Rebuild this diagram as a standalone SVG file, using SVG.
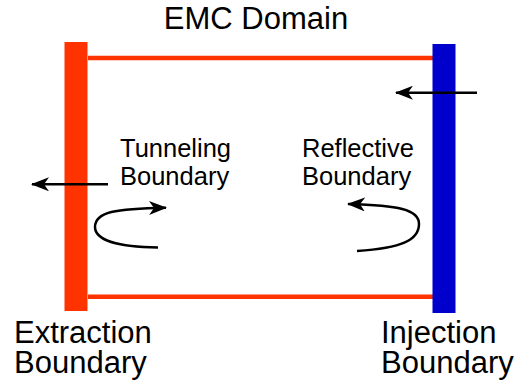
<svg xmlns="http://www.w3.org/2000/svg" width="517" height="381" viewBox="0 0 517 381">
<defs>
<style>
text{font-family:"Liberation Sans",Arial,sans-serif;fill:#000}
.t1{font-size:31px}
.t2{font-size:25.5px}
.t3{font-size:31px}
.edge{stroke:#ff3300;stroke-width:4.5;fill:none}
.arr{stroke:#000;stroke-width:2.5;fill:none}
</style>
<marker id="ah" viewBox="0 0 18 14" refX="17" refY="7" markerWidth="18" markerHeight="14" markerUnits="userSpaceOnUse" orient="auto">
<path d="M0,0 L18,7 L0,14 L5,7 Z" fill="#000"/>
</marker>
</defs>
<rect width="517" height="381" fill="#fff"/>
<g id="connectors">
<line class="edge" x1="88" y1="58" x2="433" y2="58"/>
<line class="edge" x1="88" y1="296.7" x2="433" y2="296.7"/>
</g>
<g id="extraction">
<rect x="64.5" y="42" width="23" height="269" fill="#ff3300"/>
<text class="t3" x="14" y="343">Extraction</text>
<text class="t3" x="14" y="373">Boundary</text>
</g>
<g id="injection">
<rect x="432.5" y="44" width="23" height="269" fill="#0000cc"/>
<text class="t3" x="381" y="343">Injection</text>
<text class="t3" x="381" y="373">Boundary</text>
</g>
<g id="title">
<text class="t1" x="256" y="29" text-anchor="middle">EMC Domain</text>
</g>
<g id="tunneling">
<text class="t2" x="120" y="157">Tunneling</text>
<text class="t2" x="120" y="185">Boundary</text>
</g>
<g id="reflective">
<text class="t2" x="302" y="157">Reflective</text>
<text class="t2" x="302" y="185">Boundary</text>
</g>
<g id="arrows">
<line class="arr" x1="477" y1="92.7" x2="396" y2="92.7" marker-end="url(#ah)"/>
<line class="arr" x1="108" y1="184.3" x2="32" y2="184.3" marker-end="url(#ah)"/>
<path class="arr" d="M158,247.5 C118,247 95,240 95,227 C95,212 115,208.5 166,207.7" marker-end="url(#ah)"/>
<path class="arr" d="M357,251 C402,248 419,240 419,224 C419,209 398,205.5 348,204" marker-end="url(#ah)"/>
</g>
</svg>
